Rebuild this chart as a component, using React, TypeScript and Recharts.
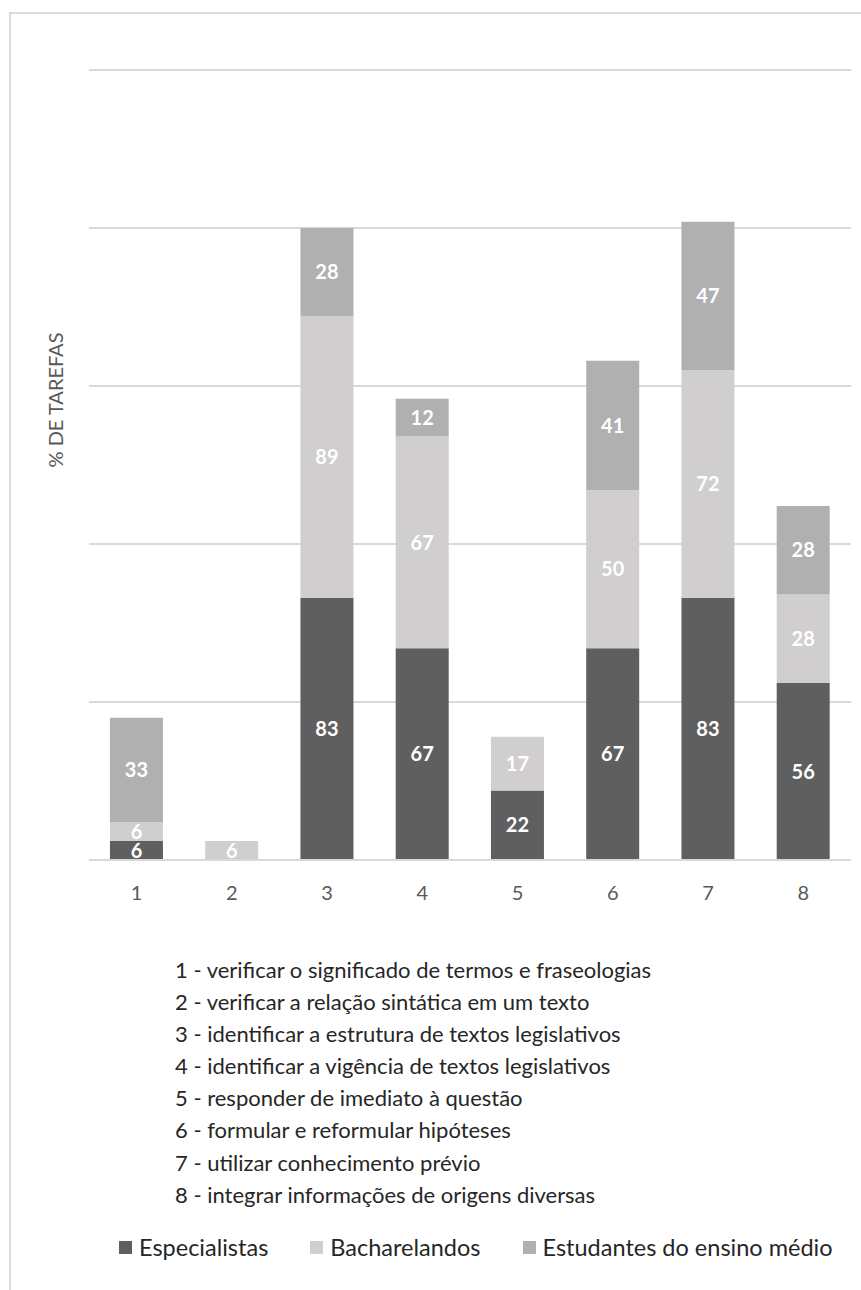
import { BarChart, Bar, XAxis, YAxis, CartesianGrid, LabelList } from "recharts";

// categories and series values (% de tarefas)
const categories = ["1", "2", "3", "4", "5", "6", "7", "8"];
const especialistas = [6, 0, 83, 67, 22, 67, 83, 56];
const bacharelandos = [6, 6, 89, 67, 17, 50, 72, 28];
const estudantes = [33, 0, 28, 12, 0, 41, 47, 28];

const yTicks = [0, 50, 100, 150, 200, 250];

const taskNames = [
  "1 - verificar o significado de termos e fraseologias",
  "2 - verificar a relação sintática em um texto",
  "3 - identificar a estrutura de textos legislativos",
  "4 - identificar a vigência de textos legislativos",
  "5 - responder de imediato à questão",
  "6 - formular e reformular hipóteses",
  "7 - utilizar conhecimento prévio",
  "8 - integrar informações de origens diversas",
];

const series = [
  { key: "especialistas", name: "Especialistas", color: "#5f5f5f" },
  { key: "bacharelandos", name: "Bacharelandos", color: "#d0cece" },
  { key: "estudantes", name: "Estudantes do ensino médio", color: "#b0b0b0" },
];

const data = categories.map((c, i) => ({
  name: c,
  especialistas: especialistas[i],
  bacharelandos: bacharelandos[i],
  estudantes: estudantes[i],
}));

const font = "Lato, 'Open Sans', sans-serif";

const hideZero = (v: any) => (v ? v : "");

export default function App() {
  return (
    <div
      style={{
        position: "absolute",
        left: 0,
        top: 0,
        width: 861,
        height: 1290,
        background: "#fff",
        fontFamily: font,
        overflow: "hidden",
      }}
    >
      {/* frame */}
      <div
        style={{
          position: "absolute",
          left: 9,
          top: 12,
          width: 860,
          height: 1290,
          borderLeft: "2px solid #d9d9d9",
          borderTop: "2px solid #d9d9d9",
        }}
      />
      <div style={{ position: "absolute", left: 0, top: 0 }}>
        <BarChart
          width={861}
          height={910}
          data={data}
          margin={{ top: 70, right: 10, left: 89, bottom: 20 }}
          barCategoryGap="22%"
        >
          <CartesianGrid vertical={false} stroke="#d9d9d9" strokeWidth={2} />
          <YAxis hide domain={[0, 250]} ticks={yTicks} />
          <XAxis
            dataKey="name"
            height={30}
            tickLine={false}
            axisLine={{ stroke: "#d9d9d9", strokeWidth: 2 }}
            tickMargin={20}
            tick={{ fill: "#595959", fontSize: 20, fontFamily: font }}
          />
          {series.map((s) => (
            <Bar
              key={s.key}
              dataKey={s.key}
              name={s.name}
              stackId="a"
              fill={s.color}
              isAnimationActive={false}
            >
              <LabelList
                dataKey={s.key}
                position="center"
                formatter={hideZero}
                fill="#ffffff"
                fontSize={20}
                fontWeight="bold"
                fontFamily={font}
              />
            </Bar>
          ))}
        </BarChart>
      </div>
      {/* y axis title */}
      <div
        style={{
          position: "absolute",
          left: 55,
          top: 400,
          transform: "translate(-50%, -50%) rotate(-90deg)",
          whiteSpace: "nowrap",
          color: "#595959",
          fontSize: 20,
        }}
      >
        % DE TAREFAS
      </div>
      {/* task descriptions */}
      <div
        style={{
          position: "absolute",
          left: 175,
          top: 954,
          color: "#262626",
          fontSize: 22,
          lineHeight: "32.1px",
          whiteSpace: "nowrap",
        }}
      >
        {taskNames.map((t) => (
          <div key={t}>{t}</div>
        ))}
      </div>
      {/* series legend */}
      <div
        style={{
          position: "absolute",
          left: 119,
          top: 1232,
          height: 30,
          display: "flex",
          alignItems: "center",
          color: "#262626",
          fontSize: 23.5,
          whiteSpace: "nowrap",
        }}
      >
        {series.map((s, i) => (
          <div
            key={s.key}
            style={{ display: "flex", alignItems: "center", marginRight: i < series.length - 1 ? 42 : 0 }}
          >
            <span
              style={{ display: "inline-block", width: 13, height: 13, background: s.color, marginRight: 7 }}
            />
            <span>{s.name}</span>
          </div>
        ))}
      </div>
    </div>
  );
}
